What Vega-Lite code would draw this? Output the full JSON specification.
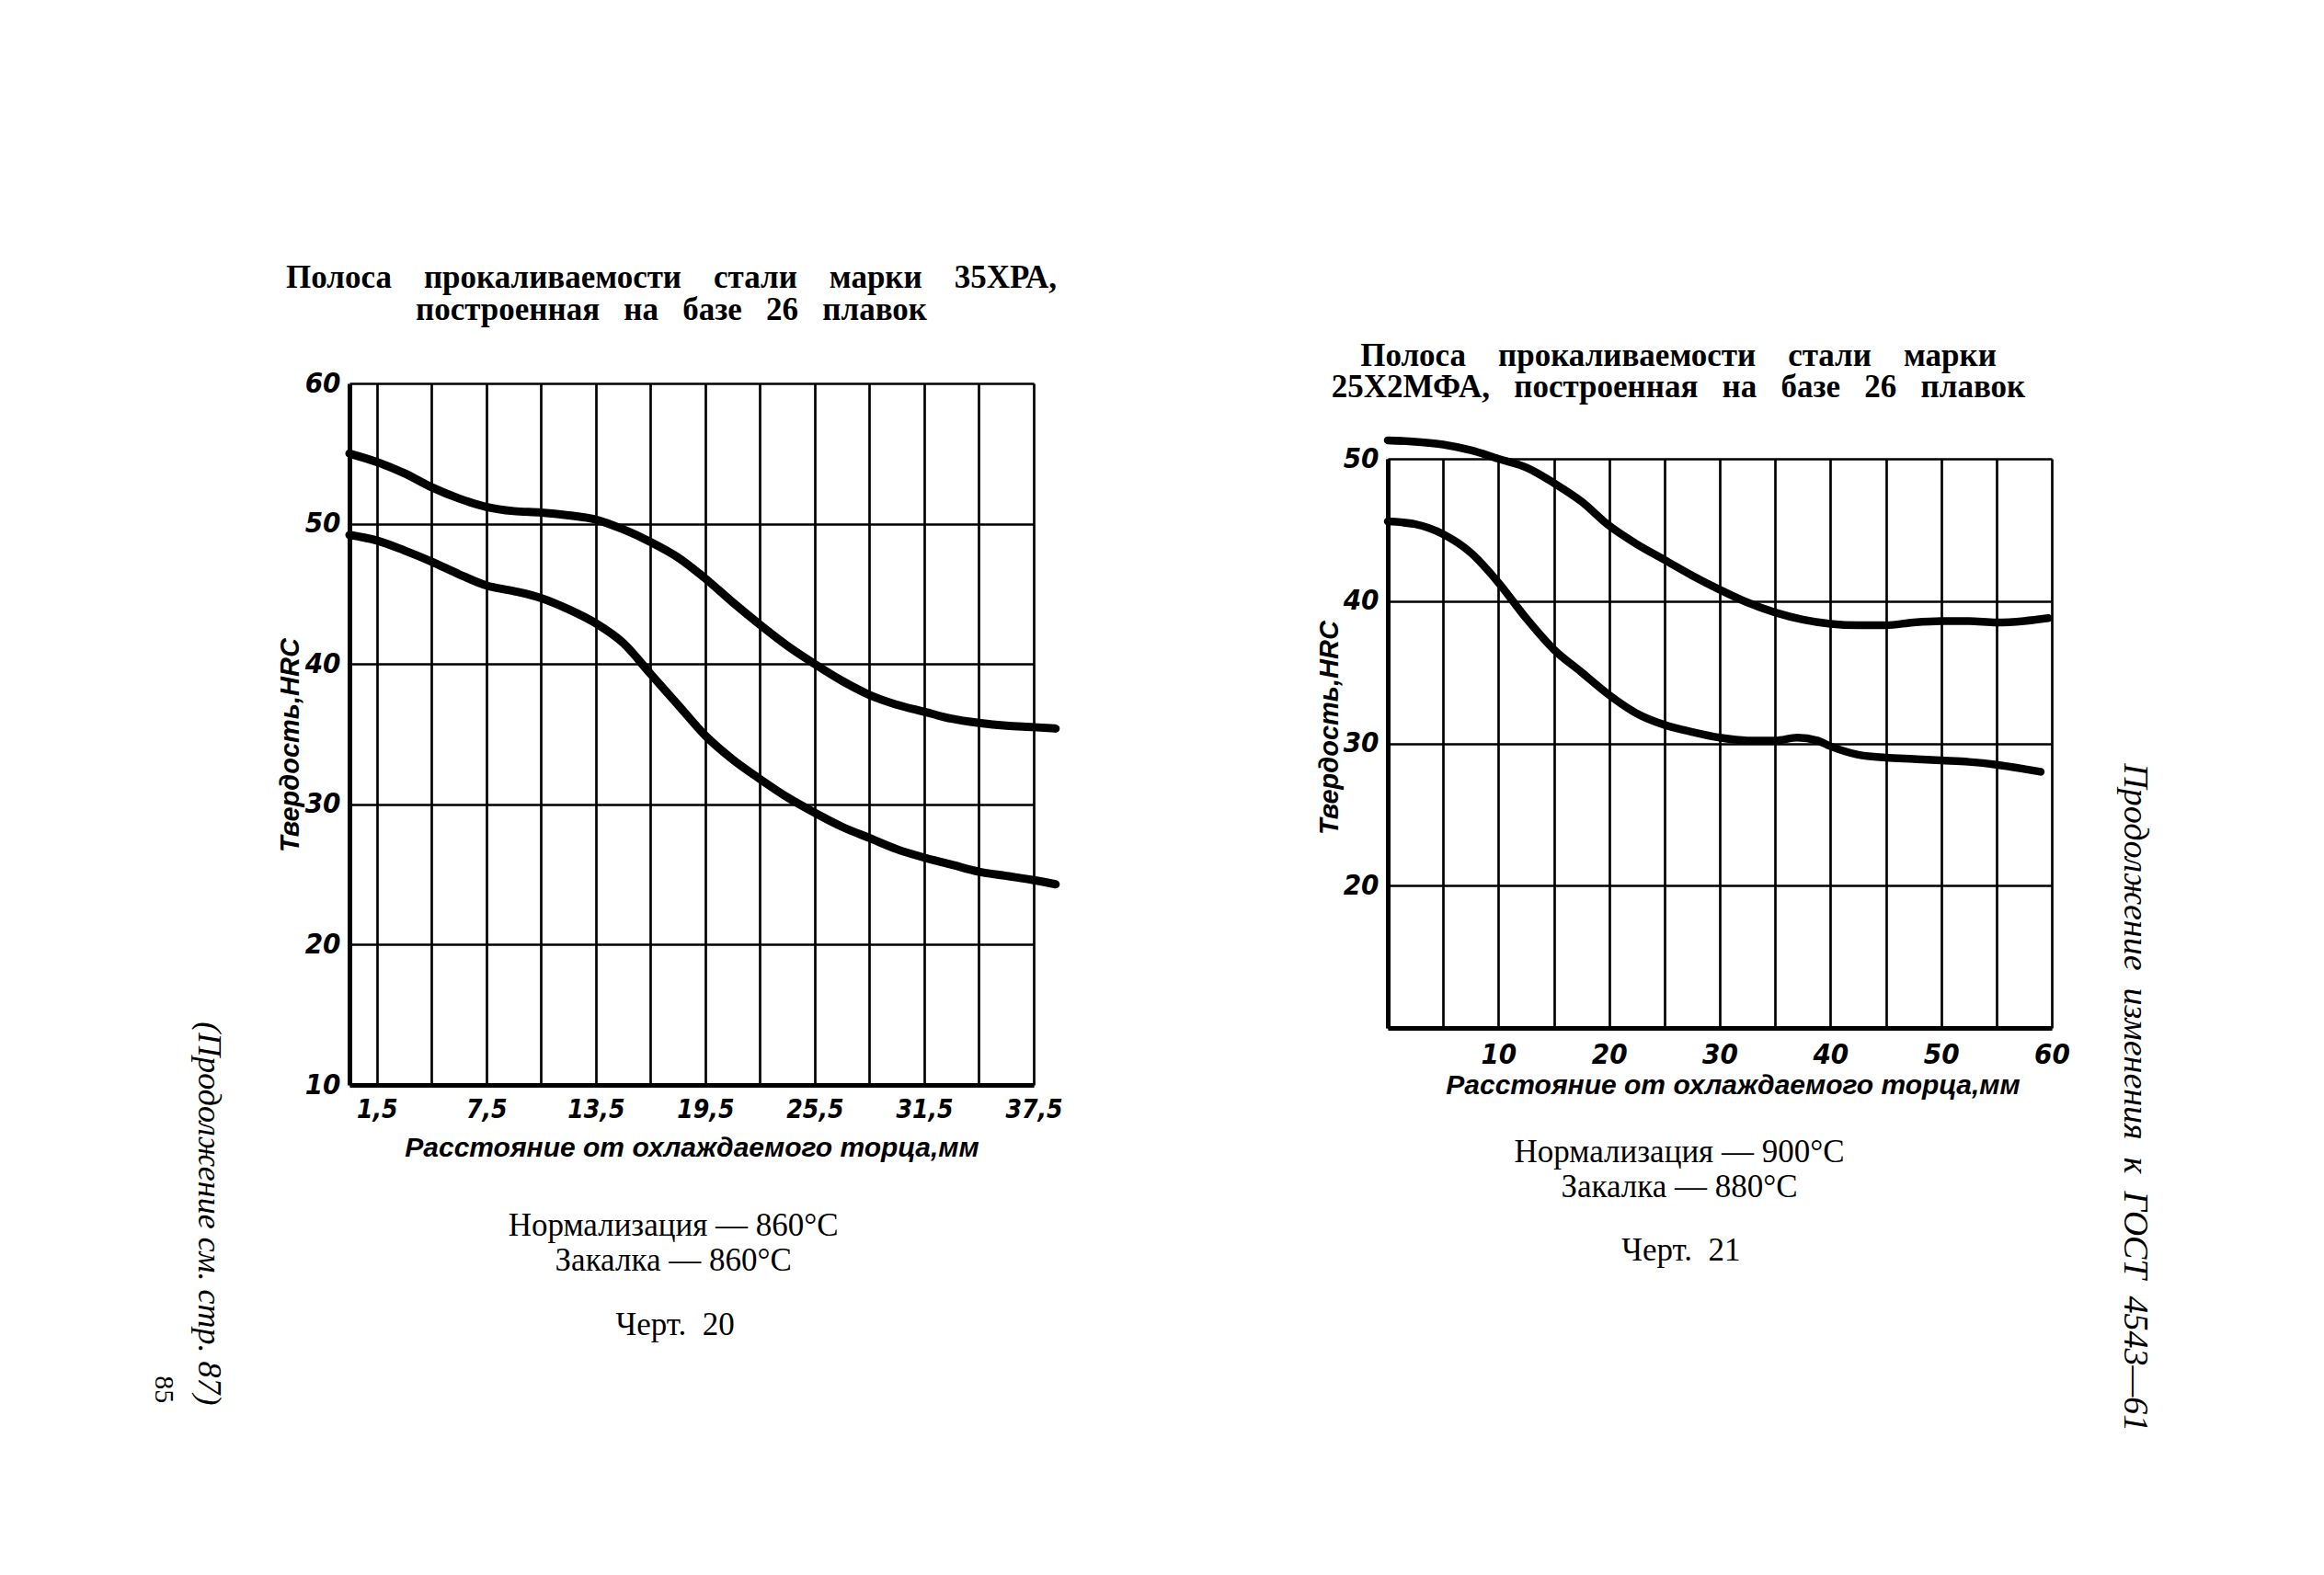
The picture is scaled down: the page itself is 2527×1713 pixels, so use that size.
{
  "$schema": "https://vega.github.io/schema/vega-lite/v6.json",
  "background": "white",
  "padding": {"left": 162, "top": 285, "right": 20, "bottom": 20},
  "config": {
    "view": {"stroke": null},
    "axis": {
      "domainColor": "black", "domainWidth": 5, "gridColor": "black", "gridWidth": 2.7, "gridOpacity": 1,
      "ticks": false, "tickSize": 0, "labelColor": "black", "titleColor": "black",
      "labelFont": "'Liberation Sans Narrow', 'DejaVu Sans Condensed', 'Liberation Sans', sans-serif", "labelFontWeight": "bold", "labelFontStyle": "italic", "labelFontSize": 31,
      "titleFont": "'Liberation Sans', sans-serif", "titleFontWeight": "bold", "titleFontStyle": "italic", "titleFontSize": 30
    }
  },
  "datasets": {
    "chart20": [
      {"curve": "max", "mm": 0, "hrc": 55.0}, {"curve": "max", "mm": 1.5, "hrc": 54.4}, {"curve": "max", "mm": 3, "hrc": 53.6},
      {"curve": "max", "mm": 4.5, "hrc": 52.6}, {"curve": "max", "mm": 6, "hrc": 51.8}, {"curve": "max", "mm": 7.5, "hrc": 51.2},
      {"curve": "max", "mm": 9, "hrc": 50.9}, {"curve": "max", "mm": 10.5, "hrc": 50.8}, {"curve": "max", "mm": 12, "hrc": 50.6},
      {"curve": "max", "mm": 13.5, "hrc": 50.3}, {"curve": "max", "mm": 15, "hrc": 49.6}, {"curve": "max", "mm": 16.5, "hrc": 48.7},
      {"curve": "max", "mm": 18, "hrc": 47.6}, {"curve": "max", "mm": 19.5, "hrc": 46.1}, {"curve": "max", "mm": 21, "hrc": 44.4},
      {"curve": "max", "mm": 22.5, "hrc": 42.8}, {"curve": "max", "mm": 24, "hrc": 41.3}, {"curve": "max", "mm": 25.5, "hrc": 40.0},
      {"curve": "max", "mm": 27, "hrc": 38.8}, {"curve": "max", "mm": 28.5, "hrc": 37.8}, {"curve": "max", "mm": 30, "hrc": 37.1},
      {"curve": "max", "mm": 31.5, "hrc": 36.6}, {"curve": "max", "mm": 33, "hrc": 36.1}, {"curve": "max", "mm": 34.5, "hrc": 35.8},
      {"curve": "max", "mm": 36, "hrc": 35.6}, {"curve": "max", "mm": 37.5, "hrc": 35.5}, {"curve": "max", "mm": 38.7, "hrc": 35.4},
      {"curve": "min", "mm": 0, "hrc": 49.2}, {"curve": "min", "mm": 1.5, "hrc": 48.8}, {"curve": "min", "mm": 3, "hrc": 48.1},
      {"curve": "min", "mm": 4.5, "hrc": 47.3}, {"curve": "min", "mm": 6, "hrc": 46.4}, {"curve": "min", "mm": 7.5, "hrc": 45.6},
      {"curve": "min", "mm": 9, "hrc": 45.2}, {"curve": "min", "mm": 10.5, "hrc": 44.7}, {"curve": "min", "mm": 12, "hrc": 43.9},
      {"curve": "min", "mm": 13.5, "hrc": 42.9}, {"curve": "min", "mm": 15, "hrc": 41.5}, {"curve": "min", "mm": 16.5, "hrc": 39.3},
      {"curve": "min", "mm": 18, "hrc": 37.1}, {"curve": "min", "mm": 19.5, "hrc": 34.9}, {"curve": "min", "mm": 21, "hrc": 33.2},
      {"curve": "min", "mm": 22.5, "hrc": 31.8}, {"curve": "min", "mm": 24, "hrc": 30.5}, {"curve": "min", "mm": 25.5, "hrc": 29.4},
      {"curve": "min", "mm": 27, "hrc": 28.4}, {"curve": "min", "mm": 28.5, "hrc": 27.6}, {"curve": "min", "mm": 30, "hrc": 26.8},
      {"curve": "min", "mm": 31.5, "hrc": 26.2}, {"curve": "min", "mm": 33, "hrc": 25.7}, {"curve": "min", "mm": 34.5, "hrc": 25.2},
      {"curve": "min", "mm": 36, "hrc": 24.9}, {"curve": "min", "mm": 37.5, "hrc": 24.6}, {"curve": "min", "mm": 38.7, "hrc": 24.3}
    ],
    "chart21": [
      {"curve": "max", "mm": 0, "hrc": 51.3}, {"curve": "max", "mm": 2.5, "hrc": 51.2}, {"curve": "max", "mm": 5, "hrc": 51.0},
      {"curve": "max", "mm": 7.5, "hrc": 50.6}, {"curve": "max", "mm": 10, "hrc": 50.0}, {"curve": "max", "mm": 12.5, "hrc": 49.4},
      {"curve": "max", "mm": 15, "hrc": 48.3}, {"curve": "max", "mm": 17.5, "hrc": 47.0}, {"curve": "max", "mm": 20, "hrc": 45.3},
      {"curve": "max", "mm": 22.5, "hrc": 44.0}, {"curve": "max", "mm": 25, "hrc": 42.9}, {"curve": "max", "mm": 27.5, "hrc": 41.8},
      {"curve": "max", "mm": 30, "hrc": 40.8}, {"curve": "max", "mm": 32.5, "hrc": 39.9}, {"curve": "max", "mm": 35, "hrc": 39.2},
      {"curve": "max", "mm": 37.5, "hrc": 38.7}, {"curve": "max", "mm": 40, "hrc": 38.4}, {"curve": "max", "mm": 42.5, "hrc": 38.3},
      {"curve": "max", "mm": 45, "hrc": 38.3}, {"curve": "max", "mm": 47.5, "hrc": 38.5}, {"curve": "max", "mm": 50, "hrc": 38.6},
      {"curve": "max", "mm": 52.5, "hrc": 38.6}, {"curve": "max", "mm": 55, "hrc": 38.5}, {"curve": "max", "mm": 57.5, "hrc": 38.6},
      {"curve": "max", "mm": 59.7, "hrc": 38.8},
      {"curve": "min", "mm": 0, "hrc": 45.6}, {"curve": "min", "mm": 2.5, "hrc": 45.4}, {"curve": "min", "mm": 5, "hrc": 44.7},
      {"curve": "min", "mm": 7.5, "hrc": 43.4}, {"curve": "min", "mm": 10, "hrc": 41.3}, {"curve": "min", "mm": 12.5, "hrc": 38.8},
      {"curve": "min", "mm": 15, "hrc": 36.6}, {"curve": "min", "mm": 17.5, "hrc": 35.0}, {"curve": "min", "mm": 20, "hrc": 33.4},
      {"curve": "min", "mm": 22.5, "hrc": 32.1}, {"curve": "min", "mm": 25, "hrc": 31.3}, {"curve": "min", "mm": 27.5, "hrc": 30.8},
      {"curve": "min", "mm": 30, "hrc": 30.4}, {"curve": "min", "mm": 32.5, "hrc": 30.2}, {"curve": "min", "mm": 35, "hrc": 30.2},
      {"curve": "min", "mm": 37, "hrc": 30.4}, {"curve": "min", "mm": 38.8, "hrc": 30.2}, {"curve": "min", "mm": 40, "hrc": 29.8},
      {"curve": "min", "mm": 42.5, "hrc": 29.2}, {"curve": "min", "mm": 45, "hrc": 29.0}, {"curve": "min", "mm": 47.5, "hrc": 28.9},
      {"curve": "min", "mm": 50, "hrc": 28.8}, {"curve": "min", "mm": 52.5, "hrc": 28.7}, {"curve": "min", "mm": 55, "hrc": 28.5},
      {"curve": "min", "mm": 57.5, "hrc": 28.2}, {"curve": "min", "mm": 59, "hrc": 28.0}
    ]
  },
  "bounds": "flush",
  "spacing": 385,
  "hconcat": [
    {
      "width": 744,
      "height": 763,
      "title": {
        "text": ["Полоса\u00a0\u00a0\u00a0\u00a0прокаливаемости\u00a0\u00a0\u00a0\u00a0стали\u00a0\u00a0\u00a0\u00a0марки\u00a0\u00a0\u00a0\u00a035ХРА,", "построенная\u00a0\u00a0\u00a0на\u00a0\u00a0\u00a0базе\u00a0\u00a0\u00a026\u00a0\u00a0\u00a0плавок"],
        "frame": "group", "anchor": "middle", "dx": -22, "offset": 11, "baseline": "bottom",
        "font": "Liberation Serif", "fontSize": 35, "fontWeight": "bold", "lineHeight": 35, "color": "black"
      },
      "layer": [
        {
          "data": {"name": "chart20"},
          "mark": {"type": "line", "color": "black", "strokeWidth": 9, "interpolate": "monotone", "strokeCap": "round"},
          "encoding": {
            "x": {
              "field": "mm", "type": "quantitative",
              "scale": {"domain": [0, 37.5], "nice": false, "zero": false},
              "axis": {
                "title": "Расстояние от охлаждаемого торца,мм", "grid": true,
                "values": [1.5, 4.5, 7.5, 10.5, 13.5, 16.5, 19.5, 22.5, 25.5, 28.5, 31.5, 34.5, 37.5],
                "labelExpr": "abs(((datum.value - 1.5) / 3) % 2) < 0.01 ? replace(format(datum.value, '.1f'), '.', ',') : ''",
                "labelPadding": 13, "titlePadding": 12, "labelFlush": false, "labelOverlap": false, "labelFontSize": 28
              }
            },
            "y": {
              "field": "hrc", "type": "quantitative",
              "scale": {"domain": [10, 60], "nice": false, "zero": false},
              "axis": {"title": "Твердость,HRC", "grid": true, "values": [10, 20, 30, 40, 50, 60], "labelPadding": 10, "titlePadding": 1, "titleFontSize": 29, "titleY": 393}
            },
            "detail": {"field": "curve"}
          }
        },
        {
          "data": {"values": [{}]},
          "mark": {"type": "text", "text": ["Нормализация — 860°C", "Закалка — 860°C"], "font": "Liberation Serif", "fontSize": 35, "lineHeight": 38, "align": "center", "baseline": "alphabetic", "color": "black"},
          "encoding": {"x": {"datum": 17.75, "type": "quantitative"}, "y": {"datum": -0.72, "type": "quantitative"}}
        },
        {
          "data": {"values": [{}]},
          "mark": {"type": "text", "text": "Черт.\u00a0 20", "font": "Liberation Serif", "fontSize": 35, "align": "center", "baseline": "alphabetic", "color": "black"},
          "encoding": {"x": {"datum": 17.85, "type": "quantitative"}, "y": {"datum": -7.8, "type": "quantitative"}}
        },
        {
          "data": {"values": [{}]},
          "mark": {"type": "text", "text": "(Продолжение см. стр. 87)", "font": "Liberation Serif", "fontStyle": "italic", "fontSize": 36, "angle": 90, "align": "center", "baseline": "middle", "color": "black"},
          "encoding": {"x": {"datum": -7.7, "type": "quantitative"}, "y": {"datum": 0.83, "type": "quantitative"}}
        },
        {
          "data": {"values": [{}]},
          "mark": {"type": "text", "text": "85", "font": "Liberation Serif", "fontSize": 30, "angle": 90, "align": "center", "baseline": "middle", "color": "black"},
          "encoding": {"x": {"datum": -10.2, "type": "quantitative"}, "y": {"datum": -11.7, "type": "quantitative"}}
        }
      ]
    },
    {
      "bounds": "flush",
      "spacing": 0,
      "vconcat": [
        {
          "width": 722,
          "height": 82,
          "data": {"values": [{}]},
          "mark": {"type": "text", "text": " ", "opacity": 0},
          "encoding": {}
        },
        {
          "width": 722,
          "height": 619,
          "title": {
            "text": ["Полоса\u00a0\u00a0\u00a0\u00a0прокаливаемости\u00a0\u00a0\u00a0\u00a0стали\u00a0\u00a0\u00a0\u00a0марки", "25Х2МФА,\u00a0\u00a0\u00a0построенная\u00a0\u00a0\u00a0на\u00a0\u00a0\u00a0базе\u00a0\u00a0\u00a026\u00a0\u00a0\u00a0плавок"],
            "frame": "group", "anchor": "middle", "dx": -45, "offset": -12, "baseline": "bottom",
            "font": "Liberation Serif", "fontSize": 35, "fontWeight": "bold", "lineHeight": 34, "color": "black"
          },
          "layer": [
            {
              "data": {"name": "chart21"},
              "mark": {"type": "line", "color": "black", "strokeWidth": 8.5, "interpolate": "monotone", "strokeCap": "round"},
              "encoding": {
                "x": {
                  "field": "mm", "type": "quantitative",
                  "scale": {"domain": [0, 60], "nice": false, "zero": false},
                  "axis": {
                    "title": "Расстояние от охлаждаемого торца,мм", "grid": true,
                    "values": [0, 5, 10, 15, 20, 25, 30, 35, 40, 45, 50, 55, 60],
                    "labelExpr": "datum.value % 10 == 0 && datum.value > 0 ? datum.label : ''",
                    "labelPadding": 14, "titlePadding": 3, "titleX": 375, "labelFlush": false, "labelOverlap": false
                  }
                },
                "y": {
                  "field": "hrc", "type": "quantitative",
                  "scale": {"domain": [10, 50], "nice": false, "zero": false},
                  "axis": {"title": "Твердость,HRC", "grid": true, "values": [10, 20, 30, 40, 50], "labelExpr": "datum.value > 10 ? datum.label : ''", "labelPadding": 10, "titlePadding": 0, "titleFontSize": 29, "titleY": 292}
                },
                "detail": {"field": "curve"}
              }
            },
            {
              "data": {"values": [{}]},
              "mark": {"type": "text", "text": ["Нормализация — 900°C", "Закалка — 880°C"], "font": "Liberation Serif", "fontSize": 35, "lineHeight": 38, "align": "center", "baseline": "alphabetic", "color": "black"},
              "encoding": {"x": {"datum": 26.35, "type": "quantitative"}, "y": {"datum": 0.55, "type": "quantitative"}}
            },
            {
              "data": {"values": [{}]},
              "mark": {"type": "text", "text": "Черт.\u00a0 21", "font": "Liberation Serif", "fontSize": 35, "align": "center", "baseline": "alphabetic", "color": "black"},
              "encoding": {"x": {"datum": 26.5, "type": "quantitative"}, "y": {"datum": -6.35, "type": "quantitative"}}
            },
            {
              "data": {"values": [{}]},
              "mark": {"type": "text", "text": "Продолжение\u00a0 изменения\u00a0 к\u00a0 ГОСТ\u00a0 4543—61", "font": "Liberation Serif", "fontStyle": "italic", "fontSize": 38, "angle": 90, "align": "center", "baseline": "middle", "color": "black"},
              "encoding": {"x": {"datum": 67.5, "type": "quantitative"}, "y": {"datum": 5.1, "type": "quantitative"}}
            }
          ]
        }
      ]
    }
  ]
}
